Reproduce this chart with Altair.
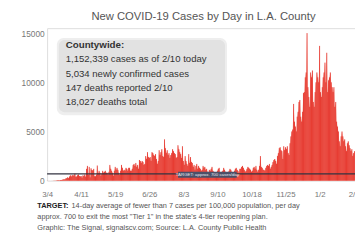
import altair as alt
import pandas as pd

# daily new cases, 3/4/2020 .. 2/10/2021
mar = [6, 1, 3, 1, 0, 2, 3, 5, 8, 13, 13, 41, 50, 50, 40, 63, 61, 90, 128, 138, 128, 235, 250, 342, 257, 422, 548, 420]
apr = [550, 534, 521, 711, 400, 420, 550, 620, 470, 420, 475, 290, 545, 460, 620, 400, 1190, 1500, 600, 1400, 330, 1260, 1080, 1030, 1200, 450, 440, 600, 1540, 730]
may = [1000, 800, 500, 700, 1000, 800, 900, 1000, 800, 800, 600, 900, 1600, 1200, 1000, 800, 500, 1000, 1400, 1100, 1300, 1100, 800, 600, 1000, 1600, 1300, 1000, 1100, 1000, 1300]
jun = [1200, 1000, 1300, 1300, 1000, 1000, 1200, 1600, 1700, 1500, 1800, 1400, 1600, 1200, 2100, 2000, 1800, 2000, 1900, 1600, 1700, 2500, 2200, 2900, 2400, 2300, 2400, 2000, 2900, 2800]
jul = [2600, 2500, 2700, 2200, 1700, 2000, 3100, 2600, 2900, 3200, 2500, 2400, 4200, 3300, 2800, 3100, 2600, 2800, 2300, 2600, 2800, 3200, 3000, 2800, 2700, 2300, 2400, 3600, 3200, 2900, 2700]
aug = [2300, 3500, 2000, 1600, 2500, 2000, 1700, 1500, 2700, 1800, 2400, 1900, 1800, 1400, 1600, 1100, 1500, 1700, 1200, 1500, 1300, 1200, 1000, 1100, 1500, 1300, 1400, 1100, 1200, 900, 800]
sep = [1100, 1000, 1200, 1400, 1000, 900, 700, 500, 800, 1000, 1200, 1300, 800, 700, 900, 1000, 1300, 1100, 900, 600, 700, 800, 1000, 1200, 1100, 900, 600, 700, 1000, 1200]
octo = [1300, 1100, 1000, 800, 1200, 1200, 1400, 1500, 1300, 1100, 900, 1000, 1200, 1400, 1300, 1200, 1100, 900, 1000, 1300, 1400, 1200, 1500, 1100, 900, 1100, 1500, 2500, 1400, 1300, 1100]
nov = [1100, 1000, 1300, 1500, 1600, 1500, 1700, 1200, 1400, 1600, 1900, 2100, 2200, 2000, 1700, 2500, 2800, 3300, 3400, 3100, 3000, 2200, 3500, 3100, 3400, 3200, 3500, 2800, 2600, 3800]
dec = [4500, 5000, 5200, 7800, 6000, 5500, 5000, 6500, 7000, 8000, 8200, 6500, 6000, 7000, 8900, 9000, 10500, 11000, 15000, 9500, 8500, 7500, 11000, 10500, 11200, 8000, 7500, 9000, 10000, 11000, 10500]
jan = [10000, 13700, 9000, 8500, 9500, 10500, 11000, 12000, 10000, 13000, 9000, 10200, 10500, 11000, 10000, 9500, 9000, 9500, 7500, 8000, 6000, 5500, 5000, 4000, 3500, 4500, 5000, 4500, 4000, 4200, 3500]
feb = [3000, 3800, 4000, 3600, 3300, 3000, 3200, 2500, 2800, 3000]

cases = mar + apr + may + jun + jul + aug + sep + octo + nov + dec + jan + feb
dates = pd.date_range("2020-03-04", periods=len(cases), freq="D").strftime("%Y-%m-%d")
df = pd.DataFrame({"date": dates, "cases": cases})

tick_dates = [(2020, 3, 4), (2020, 4, 11), (2020, 5, 19), (2020, 6, 26), (2020, 8, 3),
              (2020, 9, 10), (2020, 10, 18), (2020, 11, 25), (2021, 1, 2), (2021, 2, 9)]
target = [700]
title_text = "New COVID-19 Cases by Day in L.A. County"
box_head_text = "Countywide:"
box_lines = ["1,152,339 cases as of 2/10 today", "5,034 newly confirmed cases",
             "147 deaths reported 2/10", "18,027 deaths total"]
footer_bold = "TARGET:"
footer_lines = ["14-day average of fewer than 7 cases per 100,000 population, per day",
                "approx. 700 to exit the most \"Tier 1\" in the state's 4-tier reopening plan.",
                "Graphic: The Signal, signalscv.com; Source: L.A. County Public Health"]
target_label = "TARGET: approx. 700 cases/day"

W, H = 315, 156
FONT = "Liberation Sans"

xscale = alt.Scale(type="utc", domain=["2020-03-04T00:00:00Z", "2021-02-10T12:00:00Z"])
yscale = alt.Scale(domain=[0, 15500], nice=False)

x_axis = alt.Axis(values=[alt.DateTime(year=y, month=m, date=d, utc=True) for y, m, d in tick_dates],
                  labelExpr="utcFormat(datum.value, '%-m/%-d')",
                  labelFontSize=8, labelColor="#777", labelFont=FONT,
                  ticks=False, domain=False, grid=False, labelPadding=10,
                  labelOverlap=False, labelFlush=False, labelBound=False)
y_axis = alt.Axis(values=[0, 5000, 10000, 15000], format="d", labelFontSize=8.5,
                  labelColor="#777", labelFont=FONT, ticks=False, domain=False,
                  grid=False, labelPadding=3)
x_enc = alt.X("date:T", scale=xscale, title=None, axis=x_axis)
y_enc = alt.Y("cases:Q", scale=yscale, title=None, axis=y_axis)

base = alt.Chart(df)
area = base.mark_area(color="#f7968a", opacity=0.85).encode(x=x_enc, y=y_enc)
bars = base.mark_rule(color="#e3241b", strokeWidth=0.8).encode(x=x_enc, y=y_enc, y2=alt.datum(0))

tline = alt.Chart(pd.DataFrame({"cases": target})).mark_rule(color="#333340", strokeWidth=1.3).encode(
    y=y_enc)


def txt(s, x, y, size, color="#333", weight="normal", align="left"):
    return alt.Chart(pd.DataFrame({"t": [s]})).mark_text(
        fontSize=size, color=color, font=FONT, fontWeight=weight, align=align,
        baseline="middle").encode(text="t:N", x=alt.value(x), y=alt.value(y))


def rect(x, x2, y, y2, color, r=0):
    return alt.Chart(pd.DataFrame({"a": [1]})).mark_rect(color=color, cornerRadius=r).encode(
        x=alt.value(x), x2=alt.value(x2), y=alt.value(y), y2=alt.value(y2))


layers = [area, bars, tline,
          rect(134, 194, 147, 153, "#4a5068"),
          txt(target_label, 164, 150, 4.5, "#e8e8f0", align="center"),
          txt(title_text, 160, -11, 11.5, "#555", align="center"),
          rect(10, 184, 10, 89, "#eeeeee", 7),
          rect(12, 182, 12, 86, "#e2e2e2", 6)]
layers.append(txt(box_head_text, 19, 17, 10, "#333", "bold"))
for i, s in enumerate(box_lines):
    layers.append(txt(s, 19, 32 + 14.7 * i, 9.8, "#333"))
layers.append(txt(footer_bold, -10, 182, 7.5, "#222", "bold"))
layers.append(txt(footer_lines[0], 25, 182, 7.5, "#555"))
layers.append(txt(footer_lines[1], -10, 193, 7.5, "#555"))
layers.append(txt(footer_lines[2], -10, 204, 7.5, "#555"))

chart = alt.layer(*layers).properties(
    width=W, height=H,
    padding={"left": 40, "top": 18, "right": 0, "bottom": 55},
    autosize=alt.AutoSizeParams(type="none"),
).configure_view(stroke=None).configure(background="white")

chart.save("out.html", embed_options={"renderer": "svg", "actions": False})
